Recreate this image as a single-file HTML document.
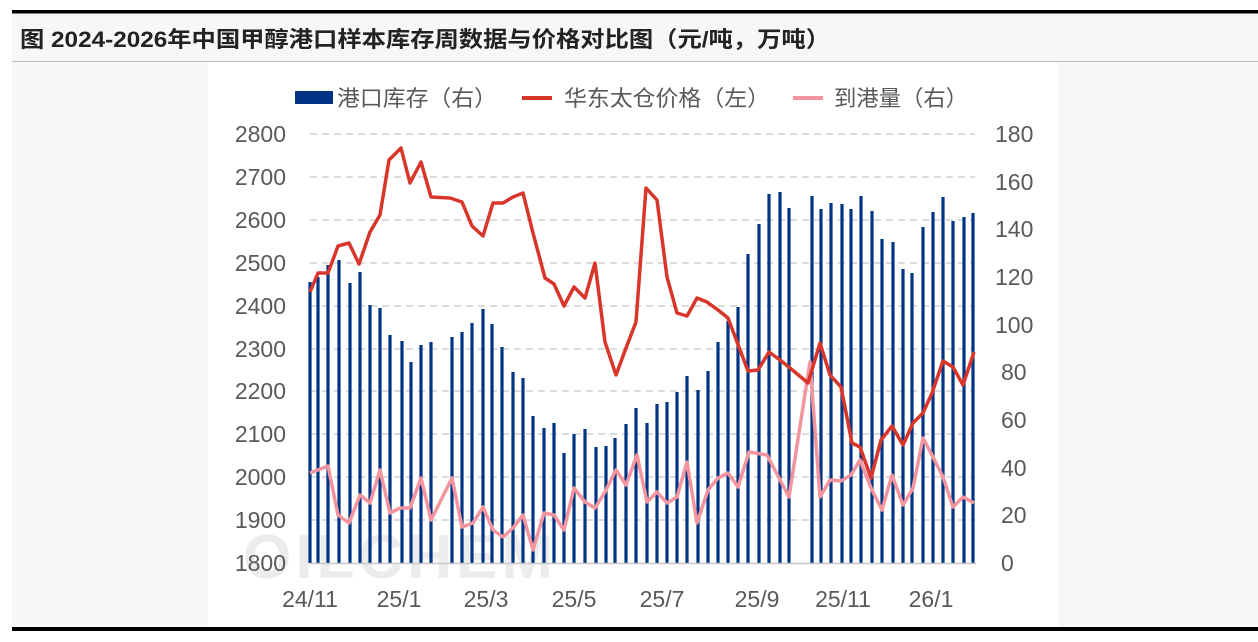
<!DOCTYPE html>
<html><head><meta charset="utf-8"><style>
body{margin:0;width:1258px;height:637px;background:#fff;overflow:hidden;font-family:"Liberation Sans","Noto Sans CJK SC",sans-serif}
</style></head><body>
<svg width="1258" height="637" xmlns="http://www.w3.org/2000/svg" font-family="Liberation Sans, Noto Sans CJK SC, sans-serif">
<rect x="12" y="13" width="1246" height="48" fill="#f7f7f7"/>
<rect x="12" y="10" width="1246" height="3.5" fill="#000"/>
<text x="20" y="47" font-size="22" font-weight="bold" fill="#222" textLength="810" lengthAdjust="spacingAndGlyphs">图  2024-2026年中国甲醇港口样本库存周数据与价格对比图（元/吨，万吨）</text>
<rect x="12" y="61" width="1246" height="1.2" fill="#bbb"/>
<rect x="12" y="62" width="1246" height="566" fill="#f7f7f7"/>
<rect x="208" y="62" width="850" height="566" fill="#fff"/>
<rect x="12" y="627" width="1246" height="4" fill="#000"/>
<g font-size="22" fill="#595959">
<rect x="295" y="91" width="38" height="13" fill="#003586"/>
<text x="337" y="106" textLength="160" lengthAdjust="spacingAndGlyphs">港口库存（右）</text>
<rect x="522" y="96" width="30" height="4" fill="#d9362b"/>
<text x="564" y="106" textLength="206" lengthAdjust="spacingAndGlyphs">华东太仓价格（左）</text>
<rect x="793" y="96" width="30" height="4" fill="#f2959f"/>
<text x="834" y="106" textLength="134" lengthAdjust="spacingAndGlyphs">到港量（右）</text>
</g>
<g stroke="#c8c8c8" stroke-dasharray="7,5" stroke-width="1.3">
<line x1="310" x2="975" y1="134" y2="134"/><line x1="310" x2="975" y1="177" y2="177"/><line x1="310" x2="975" y1="220" y2="220"/><line x1="310" x2="975" y1="263" y2="263"/><line x1="310" x2="975" y1="306" y2="306"/><line x1="310" x2="975" y1="349" y2="349"/><line x1="310" x2="975" y1="391" y2="391"/><line x1="310" x2="975" y1="434" y2="434"/><line x1="310" x2="975" y1="477" y2="477"/><line x1="310" x2="975" y1="520" y2="520"/>
</g>
<text x="400" y="578" font-size="62" font-weight="bold" fill="#ececec" text-anchor="middle" letter-spacing="4">OILCHEM</text>
<g font-size="23" fill="#595959" text-anchor="end">
<text x="286" y="142">2800</text><text x="286" y="185">2700</text><text x="286" y="228">2600</text><text x="286" y="271">2500</text><text x="286" y="314">2400</text><text x="286" y="357">2300</text><text x="286" y="399">2200</text><text x="286" y="442">2100</text><text x="286" y="485">2000</text><text x="286" y="528">1900</text><text x="286" y="571">1800</text>
</g>
<g font-size="23" fill="#595959" text-anchor="start">
<text x="995" y="142">180</text><text x="995" y="190">160</text><text x="995" y="237">140</text><text x="995" y="285">120</text><text x="995" y="333">100</text><text x="1001" y="380">80</text><text x="1001" y="428">60</text><text x="1001" y="476">40</text><text x="1001" y="523">20</text><text x="1001" y="571">0</text>
</g>
<g font-size="23" fill="#595959" text-anchor="middle">
<text x="310" y="607">24/11</text><text x="399" y="607">25/1</text><text x="486" y="607">25/3</text><text x="574" y="607">25/5</text><text x="662" y="607">25/7</text><text x="757" y="607">25/9</text><text x="843" y="607">25/11</text><text x="931" y="607">26/1</text>
</g>
<g stroke="#003586" stroke-width="3.2">
<line x1="310" x2="310" y1="563" y2="282"/><line x1="318" x2="318" y1="563" y2="277"/><line x1="328" x2="328" y1="563" y2="265"/><line x1="339" x2="339" y1="563" y2="260"/><line x1="350" x2="350" y1="563" y2="283"/><line x1="360" x2="360" y1="563" y2="272"/><line x1="370" x2="370" y1="563" y2="305"/><line x1="380" x2="380" y1="563" y2="308"/><line x1="390" x2="390" y1="563" y2="335"/><line x1="402" x2="402" y1="563" y2="341"/><line x1="411" x2="411" y1="563" y2="362"/><line x1="421" x2="421" y1="563" y2="345"/><line x1="431" x2="431" y1="563" y2="342"/><line x1="452" x2="452" y1="563" y2="337"/><line x1="462" x2="462" y1="563" y2="332"/><line x1="472" x2="472" y1="563" y2="323"/><line x1="483" x2="483" y1="563" y2="309"/><line x1="492" x2="492" y1="563" y2="324"/><line x1="502" x2="502" y1="563" y2="347"/><line x1="513" x2="513" y1="563" y2="372"/><line x1="523" x2="523" y1="563" y2="378"/><line x1="533" x2="533" y1="563" y2="416"/><line x1="544" x2="544" y1="563" y2="428"/><line x1="554" x2="554" y1="563" y2="423"/><line x1="564" x2="564" y1="563" y2="453"/><line x1="574" x2="574" y1="563" y2="434"/><line x1="585" x2="585" y1="563" y2="429"/><line x1="596" x2="596" y1="563" y2="447"/><line x1="606" x2="606" y1="563" y2="446"/><line x1="615" x2="615" y1="563" y2="438"/><line x1="626" x2="626" y1="563" y2="424"/><line x1="636" x2="636" y1="563" y2="408"/><line x1="647" x2="647" y1="563" y2="423"/><line x1="657" x2="657" y1="563" y2="404"/><line x1="667" x2="667" y1="563" y2="402"/><line x1="677" x2="677" y1="563" y2="392"/><line x1="687" x2="687" y1="563" y2="376"/><line x1="698" x2="698" y1="563" y2="390"/><line x1="708" x2="708" y1="563" y2="371"/><line x1="718" x2="718" y1="563" y2="342"/><line x1="728" x2="728" y1="563" y2="321"/><line x1="738" x2="738" y1="563" y2="307"/><line x1="748" x2="748" y1="563" y2="254"/><line x1="759" x2="759" y1="563" y2="224"/><line x1="769" x2="769" y1="563" y2="194"/><line x1="780" x2="780" y1="563" y2="192"/><line x1="789" x2="789" y1="563" y2="208"/><line x1="812" x2="812" y1="563" y2="196"/><line x1="821" x2="821" y1="563" y2="209"/><line x1="831" x2="831" y1="563" y2="203"/><line x1="842" x2="842" y1="563" y2="204"/><line x1="851" x2="851" y1="563" y2="209"/><line x1="861" x2="861" y1="563" y2="196"/><line x1="872" x2="872" y1="563" y2="211"/><line x1="882" x2="882" y1="563" y2="239"/><line x1="893" x2="893" y1="563" y2="242"/><line x1="903" x2="903" y1="563" y2="269"/><line x1="912" x2="912" y1="563" y2="273"/><line x1="923" x2="923" y1="563" y2="227"/><line x1="933" x2="933" y1="563" y2="212"/><line x1="943" x2="943" y1="563" y2="197"/><line x1="953" x2="953" y1="563" y2="221"/><line x1="964" x2="964" y1="563" y2="217"/><line x1="973" x2="973" y1="563" y2="213"/>
</g>
<line x1="310" x2="976" y1="563.5" y2="563.5" stroke="#c8c8c8" stroke-width="1.5"/>
<polyline fill="none" stroke="#f2959f" stroke-width="3.5" stroke-linejoin="round" points="310,473 328,466 338,515 349,523 360,495 370,503 380,470 390,513 400,508 410,508 421,478 431,520 452,478 462,527 473,523 483,507 493,530 503,537 513,528 523,515 533,550 544,513 554,515 564,530 574,488 585,502 595,508 605,492 616,470 626,485 637,455 647,502 657,492 667,503 677,497 687,462 697,523 708,490 718,478 728,473 738,487 749,452 767,455 789,497 810,362 820,497 830,480 841,481 851,475 860,460 871,488 882,510 892,475 903,505 913,488 923,438 933,457 943,477 953,507 963,497 974,503"/>
<polyline fill="none" stroke="#d9362b" stroke-width="3.5" stroke-linejoin="round" points="310,292 318,273 328,273 338,246 349,243 359,264 370,232 380,215 389,160 401,148 410,183 421,162 431,197 450,198 462,202 472,226 483,236 493,203 503,203 513,197 523,193 533,233 545,278 554,284 564,306 574,287 585,298 595,263 605,342 616,375 626,348 636,322 646,188 657,200 667,277 677,313 687,316 697,298 707,302 718,310 728,318 748,371 758,370 769,352 780,360 790,368 808,383 820,343 830,375 841,387 852,443 860,447 871,478 881,440 892,426 903,445 913,423 923,413 932,393 943,361 953,367 963,385 974,352"/>
</svg>
</body></html>
